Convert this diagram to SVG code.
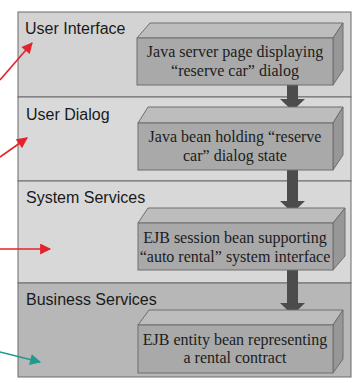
<svg xmlns="http://www.w3.org/2000/svg" width="358" height="383" viewBox="0 0 358 383">
  <defs>
    <style>
      .layer { stroke: #6a6a6a; stroke-width: 1; }
      .lbl { font-family: "Liberation Sans", Arial, sans-serif; font-size: 16px; fill: #1a1a1a; }
      .front { fill: #a9a9a9; stroke: #6e6e6e; stroke-width: 1; }
      .top { fill: #bdbdbd; stroke: #6e6e6e; stroke-width: 1; }
      .side { fill: #979797; stroke: #6e6e6e; stroke-width: 1; }
      .txt { font-family: "Liberation Serif", "Times New Roman", serif; font-size: 16px; fill: #1c1c1c; text-anchor: middle; }
      .flow { fill: #4c4c4c; }
      .red { stroke: #e3232b; stroke-width: 1.6; fill: none; }
      .teal { stroke: #1f9a8c; stroke-width: 1.6; fill: none; }
    </style>
    <marker id="redHead" viewBox="0 0 10 10" refX="9" refY="5" markerWidth="12" markerHeight="11" markerUnits="userSpaceOnUse" orient="auto">
      <path d="M0,0 L10,5 L0,10 z" fill="#e3232b"/>
    </marker>
    <marker id="tealHead" viewBox="0 0 10 10" refX="9" refY="5" markerWidth="12" markerHeight="11" markerUnits="userSpaceOnUse" orient="auto">
      <path d="M0,0 L10,5 L0,10 z" fill="#1f9a8c"/>
    </marker>
  </defs>

  <rect width="358" height="383" fill="#ffffff"/>

  <!-- layer bands -->
  <g id="layer-ui">
    <rect class="layer" x="18" y="12" width="333" height="85" fill="#d3d3d3"/>
    <text class="lbl" x="25" y="34">User Interface</text>
  </g>
  <g id="layer-dialog">
    <rect class="layer" x="18" y="97" width="333" height="84" fill="#d9d9d9"/>
    <text class="lbl" x="26" y="120">User Dialog</text>
  </g>
  <g id="layer-system">
    <rect class="layer" x="18" y="181" width="333" height="102" fill="#d8d8d8"/>
    <text class="lbl" x="26" y="203">System Services</text>
  </g>
  <g id="layer-business">
    <rect class="layer" x="18" y="283" width="333" height="94" fill="#b7b7b7"/>
    <text class="lbl" x="26" y="305">Business Services</text>
  </g>

  <!-- flow arrows between the components -->
  <g id="connectors">
    <path class="flow" d="M287,85 H298 V99 H305 L292.5,111 L280,99 H287 Z"/>
    <path class="flow" d="M287,170 H298 V201 H305 L292.5,213 L280,201 H287 Z"/>
    <path class="flow" d="M287,270 H298 V303 H305 L292.5,315 L280,303 H287 Z"/>
    <line class="red" x1="0" y1="80" x2="32" y2="43" marker-end="url(#redHead)"/>
    <line class="red" x1="0" y1="157" x2="27" y2="138" marker-end="url(#redHead)"/>
    <line class="red" x1="0" y1="249" x2="50" y2="249" marker-end="url(#redHead)"/>
    <line class="teal" x1="0" y1="352" x2="40" y2="362" marker-end="url(#tealHead)"/>
  </g>

  <!-- components drawn as slabs -->
  <g id="jsp">
    <polygon class="top" points="137,38 150,23 343,23 333,38"/>
    <polygon class="side" points="333,38 343,23 343,70 333,85"/>
    <rect class="front" x="137" y="38" width="196" height="47"/>
    <text class="txt" x="235" y="57">Java server page displaying</text>
    <text class="txt" x="235" y="76">“reserve car” dialog</text>
  </g>
  <g id="javabean">
    <polygon class="top" points="138,123 148,107 343,107 333,123"/>
    <polygon class="side" points="333,123 343,107 343,155 333,170"/>
    <rect class="front" x="138" y="123" width="195" height="47"/>
    <text class="txt" x="235" y="142">Java bean holding “reserve</text>
    <text class="txt" x="235" y="161">car” dialog state</text>
  </g>
  <g id="session-bean">
    <polygon class="top" points="138,223 148,208 345,208 333,223"/>
    <polygon class="side" points="333,223 345,208 345,256 333,270"/>
    <rect class="front" x="138" y="223" width="195" height="47"/>
    <text class="txt" x="235" y="243">EJB session bean supporting</text>
    <text class="txt" x="235" y="262">“auto rental” system interface</text>
  </g>
  <g id="entity-bean">
    <polygon class="top" points="138,325 149,310 343,310 333,325"/>
    <polygon class="side" points="333,325 343,310 343,359 333,373"/>
    <rect class="front" x="138" y="325" width="195" height="48"/>
    <text class="txt" x="235" y="345">EJB entity bean representing</text>
    <text class="txt" x="235" y="363">a rental contract</text>
  </g>
</svg>
